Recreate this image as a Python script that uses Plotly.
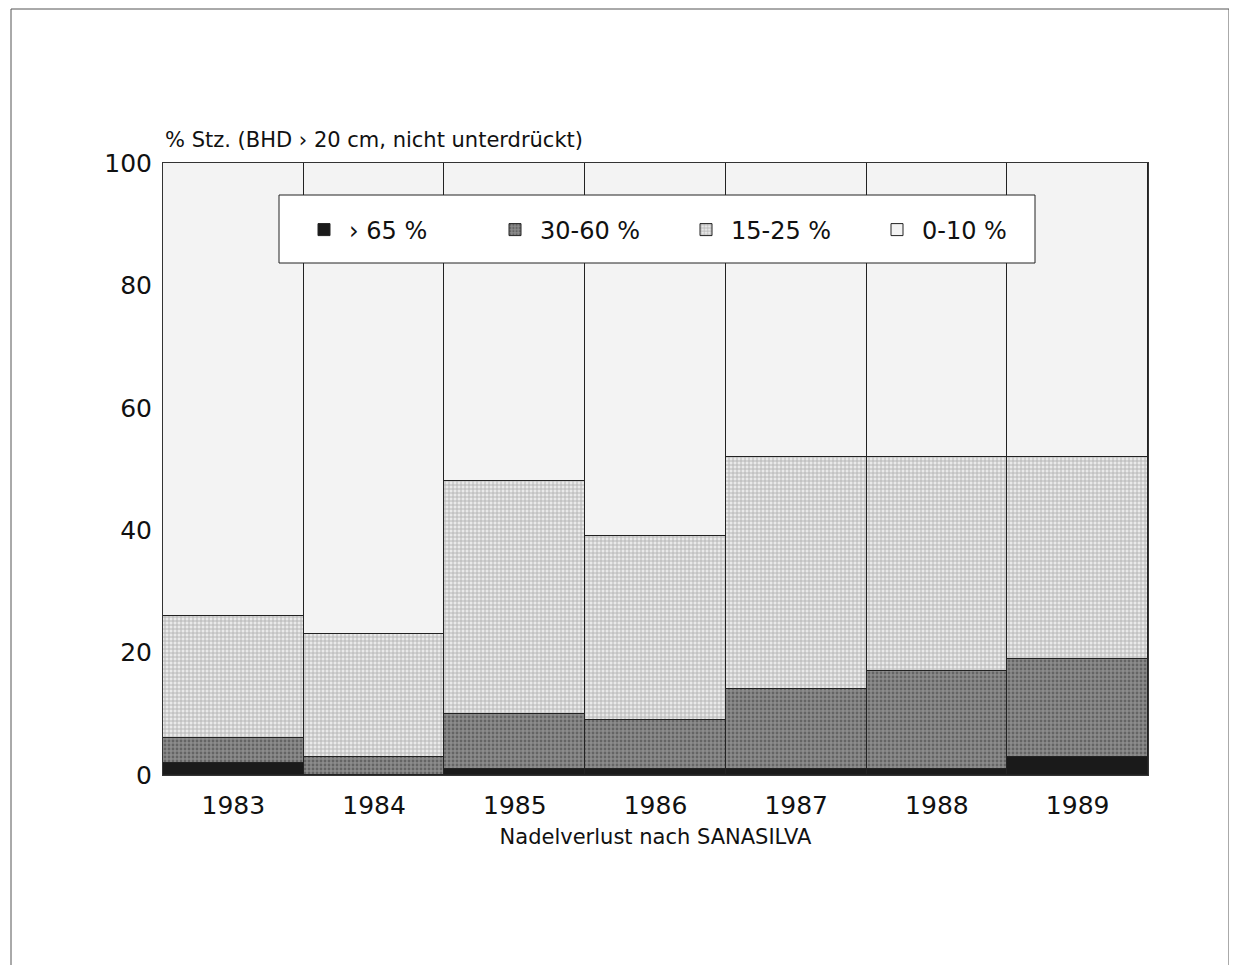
import plotly.graph_objects as go

years = ["1983", "1984", "1985", "1986", "1987", "1988", "1989"]
# segment heights (percent of trees)
loss_gt65 = [2, 0, 1, 1, 1, 1, 3]
loss_30_60 = [4, 3, 9, 8, 13, 16, 16]
loss_15_25 = [20, 20, 38, 30, 38, 35, 33]
loss_0_10 = [74, 77, 52, 61, 48, 48, 48]

series = [
    ("› 65 %", loss_gt65, "#1a1a1a", None),
    ("30-60 %", loss_30_60, "#7a7a7a", dict(shape=".", fgcolor="#3c3c3c", bgcolor="#8c8c8c", size=4, solidity=0.4)),
    ("15-25 %", loss_15_25, "#d0d0d0", dict(shape="+", fgcolor="#7a7a7a", bgcolor="#e9e9e9", size=4, solidity=0.4)),
    ("0-10 %", loss_0_10, "#f3f3f3", None),
]

fig = go.Figure()
for name, vals, col, pat in series:
    marker = dict(color=col, line=dict(color="#222222", width=1))
    if pat:
        marker["pattern"] = pat
    fig.add_trace(go.Bar(x=years, y=vals, name=name, marker=marker, width=1))

OFF = 8  # page body margin
W, H = 1237 - OFF, 965 - OFF
ml, mr, mt, mb = 163 - OFF, 89, 163 - OFF, 190
pw, ph = W - ml - mr, H - mt - mb

def px_x(p):  # page px -> paper x
    return (p - OFF - ml) / pw

def px_y(p):  # page px -> paper y
    return (H - mb - (p - OFF)) / ph

font = "DejaVu Sans, Verdana, sans-serif"

fig.update_layout(
    width=W, height=H,
    barmode="stack", bargap=0,
    paper_bgcolor="white", plot_bgcolor="white",
    margin=dict(l=ml, r=mr, t=mt, b=mb),
    font=dict(family=font, color="#111111"),
    showlegend=True,
    legend=dict(
        orientation="h",
        x=px_x(299), y=px_y(230), xanchor="left", yanchor="middle",
        bgcolor="rgba(0,0,0,0)", borderwidth=0,
        font=dict(size=24, family=font),
        entrywidth=136, entrywidthmode="pixels",
        itemwidth=40,
        traceorder="normal",
    ),
    xaxis=dict(
        showline=True, linecolor="#333333", linewidth=1, mirror=True,
        ticks="", tickfont=dict(size=25), ticklabelstandoff=8,
        title=dict(text="Nadelverlust nach SANASILVA", font=dict(size=21), standoff=10),
    ),
    yaxis=dict(
        range=[0, 100], dtick=20, showgrid=False, zeroline=False,
        showline=True, linecolor="#333333", linewidth=1, mirror=True,
        ticks="", tickfont=dict(size=25), ticklabelstandoff=5,
    ),
    annotations=[
        dict(text="% Stz. (BHD › 20 cm, nicht unterdrückt)", xref="paper", yref="paper",
             x=px_x(163), y=1, xanchor="left", yanchor="bottom", yshift=9, showarrow=False,
             font=dict(size=21, family=font)),
    ],
    shapes=[
        dict(type="rect", xref="paper", yref="paper",
             x0=px_x(11), x1=px_x(1229), y0=px_y(980), y1=px_y(9),
             line=dict(color="#555555", width=1), fillcolor="rgba(0,0,0,0)", layer="below"),
        dict(type="rect", xref="paper", yref="paper",
             x0=px_x(279), x1=px_x(1035), y0=px_y(263), y1=px_y(195),
             line=dict(color="#222222", width=1), fillcolor="white", layer="above"),
    ],
)

fig.write_html("out.html")
